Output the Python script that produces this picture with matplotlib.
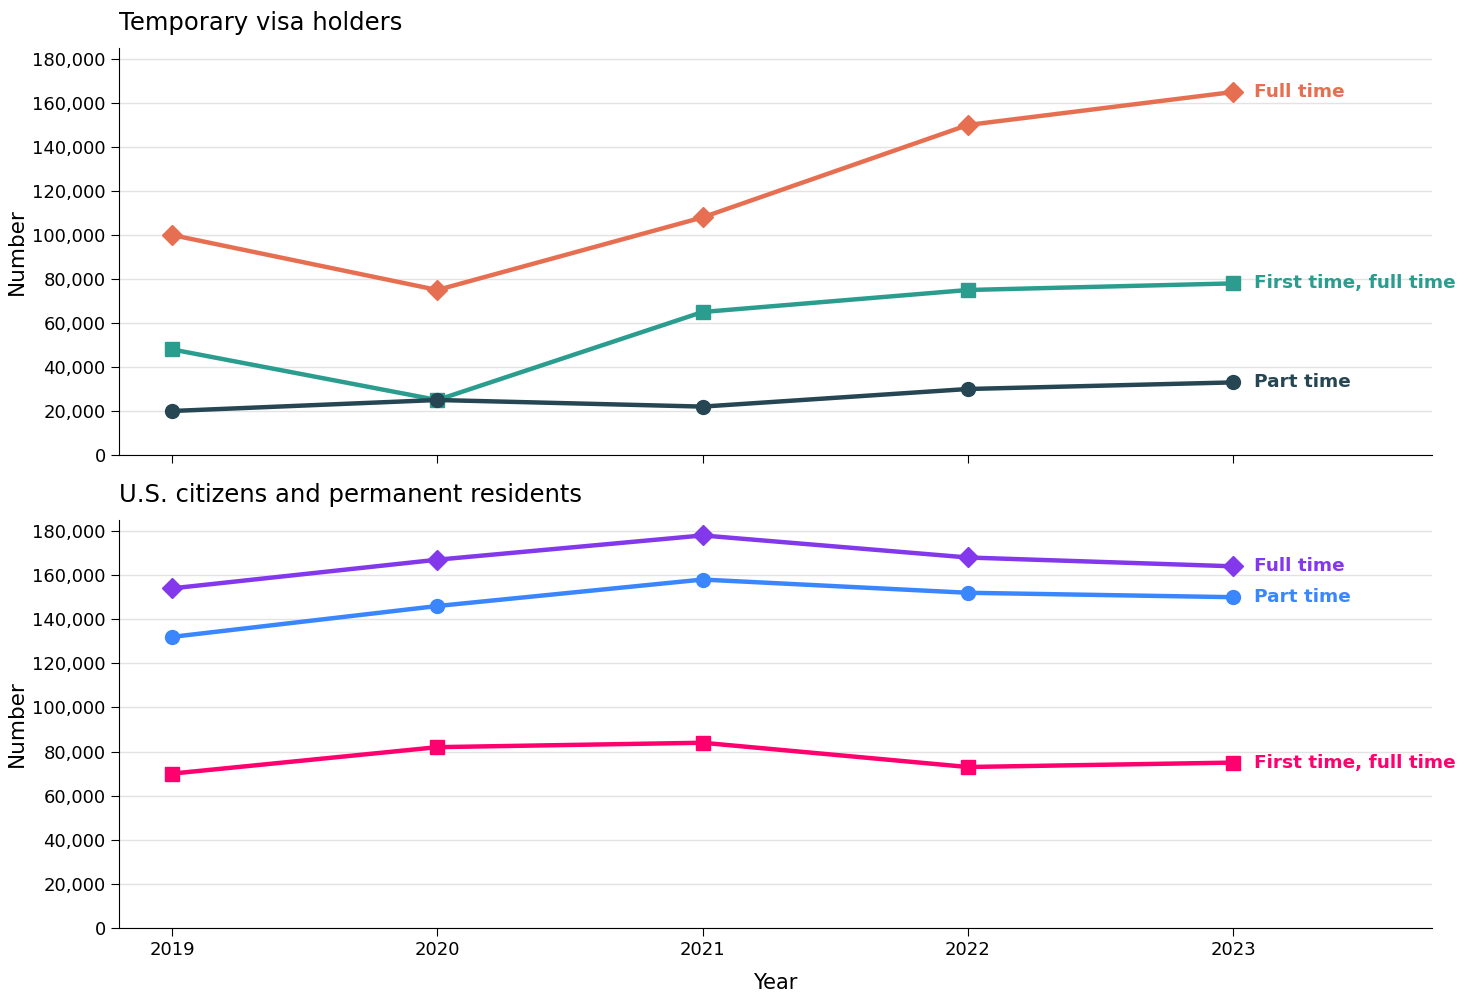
import matplotlib
matplotlib.use("Agg")
import matplotlib.pyplot as plt
from matplotlib.ticker import FuncFormatter

years = [2019, 2020, 2021, 2022, 2023]

# Temporary visa holders
visa_full_time = [100000, 75000, 108000, 150000, 165000]
visa_first_time_full = [48000, 25000, 65000, 75000, 78000]
visa_part_time = [20000, 25000, 22000, 30000, 33000]

# U.S. citizens and permanent residents
us_full_time = [154000, 167000, 178000, 168000, 164000]
us_part_time = [132000, 146000, 158000, 152000, 150000]
us_first_time_full = [70000, 82000, 84000, 73000, 75000]

panel_titles = ["Temporary visa holders", "U.S. citizens and permanent residents"]
yticks = [0, 20000, 40000, 60000, 80000, 100000, 120000, 140000, 160000, 180000]

fig = plt.figure(figsize=(14.71, 9.94), dpi=100)
ax1 = fig.add_axes([119/1471, 1-455/994, (1432-119)/1471, (455-48)/994])
ax2 = fig.add_axes([119/1471, 1-928/994, (1432-119)/1471, (928-520)/994])

top_series = [
    (visa_full_time, "Full time", "#e76f51", "D", 10),
    (visa_first_time_full, "First time, full time", "#2a9d8f", "s", 10),
    (visa_part_time, "Part time", "#264653", "o", 10),
]
bottom_series = [
    (us_full_time, "Full time", "#8338ec", "D", 10),
    (us_part_time, "Part time", "#3a86ff", "o", 10),
    (us_first_time_full, "First time, full time", "#ff006e", "s", 10),
]

fmt = FuncFormatter(lambda v, p: f"{int(v):,}")

for ax, series, title in [(ax1, top_series, panel_titles[0]), (ax2, bottom_series, panel_titles[1])]:
    for vals, label, color, marker, ms in series:
        ax.plot(years, vals, color=color, lw=3.2, marker=marker, markersize=ms, zorder=3)
        ax.annotate(label, xy=(years[-1], vals[-1]), xytext=(15, 0), textcoords="offset points",
                    va="center", ha="left", color=color, fontsize=13.3, fontweight="bold")
    ax.set_xlim(2018.8, 2023.75)
    ax.set_ylim(0, 185000)
    ax.set_yticks(yticks)
    ax.yaxis.set_major_formatter(fmt)
    ax.set_xticks(years)
    ax.grid(axis="y", color="#e3e3e3", lw=1)
    ax.set_axisbelow(True)
    for s in ["top", "right"]:
        ax.spines[s].set_visible(False)
    ax.tick_params(labelsize=13, length=6)
    ax.set_ylabel("Number", fontsize=15.5)
    ax.set_title(title, loc="left", fontsize=17.5, pad=13)

ax1.tick_params(axis="x", labelbottom=False)
ax2.set_xticklabels([str(y) for y in years])
ax2.set_xlabel("Year", fontsize=15, labelpad=10)

fig.savefig("out.png", dpi=100)
